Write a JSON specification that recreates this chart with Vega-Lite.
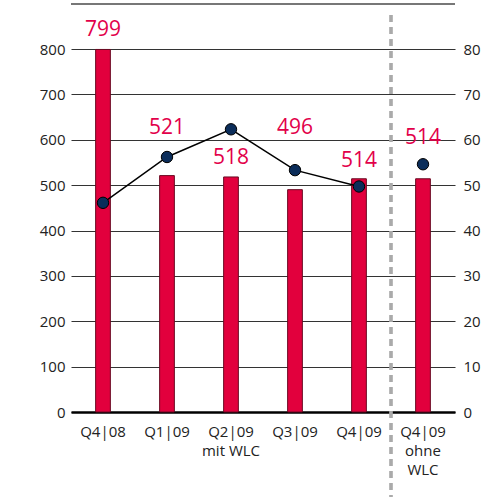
{
  "$schema": "https://vega.github.io/schema/vega-lite/v6.json",
  "width": 384,
  "height": 363,
  "autosize": {"type": "none"},
  "padding": {"left": 71, "top": 49, "right": 32, "bottom": 85},
  "background": "white",
  "config": {
    "view": {"stroke": null},
    "font": "Open Sans",
    "axis": {"labelFont": "Open Sans", "labelFontSize": 15, "labelColor": "#222", "title": null},
    "axisX": {
      "labelAngle": 0,
      "labelExpr": "split(datum.label, '~')",
      "labelLineHeight": 19,
      "labelPadding": 12,
      "ticks": false,
      "grid": false,
      "domainColor": "#000",
      "domainWidth": 2.5
    }
  },
  "data": {
    "values": [
      {"q": "Q4|08", "v": 799, "lbl": "799", "ly": 842, "r": 46.1, "g": "a"},
      {"q": "Q1|09", "v": 521, "lbl": "521", "ly": 626, "r": 56.2, "g": "a"},
      {"q": "Q2|09~mit WLC", "v": 518, "lbl": "518", "ly": 560, "r": 62.3, "g": "a"},
      {"q": "Q3|09", "v": 490, "lbl": "496", "ly": 626, "r": 53.3, "g": "a"},
      {"q": "Q4|09", "v": 514, "lbl": "514", "ly": 553, "r": 49.7, "g": "a"},
      {"q": "Q4|09~ohne~WLC", "v": 514, "lbl": "514", "ly": 604, "r": 54.6, "g": "b"}
    ]
  },
  "layer": [
    {
      "layer": [
        {
          "mark": {"type": "rule", "stroke": "#777", "strokeWidth": 2},
          "encoding": {
            "y": {"datum": 899, "scale": {"domain": [0, 800], "nice": false}, "title": null}
          }
        },
        {
          "mark": {"type": "bar", "fill": "#e2003d", "stroke": "#6a0a22", "strokeWidth": 1},
          "encoding": {
            "x": {"field": "q", "type": "nominal", "sort": null, "scale": {"paddingInner": 0.77, "paddingOuter": 0.385}, "title": null},
            "y": {
              "field": "v",
              "type": "quantitative",
              "scale": {"domain": [0, 800], "nice": false},
              "axis": {
                "values": [0, 100, 200, 300, 400, 500, 600, 700, 800],
                "grid": true,
                "gridColor": "#333",
                "gridWidth": 1.2,
                "domain": false,
                "ticks": false,
                "labelPadding": 6,
                "title": null
              }
            }
          }
        },
        {
          "mark": {"type": "text", "fontSize": 21, "color": "#e2004a", "font": "Open Sans"},
          "encoding": {
            "x": {"field": "q", "type": "nominal", "sort": null, "title": null},
            "y": {"field": "ly", "type": "quantitative", "scale": {"domain": [0, 800], "nice": false}, "title": null},
            "text": {"field": "lbl"}
          }
        },
        {
          "mark": {"type": "rule", "stroke": "#aaaaaa", "strokeWidth": 2.5, "strokeDash": [7, 5], "xOffset": -32},
          "encoding": {
            "x": {"datum": "Q4|09~ohne~WLC", "type": "nominal", "title": null},
            "y": {"datum": 875, "scale": {"domain": [0, 800], "nice": false}, "title": null},
            "y2": {"datum": -190}
          }
        }
      ]
    },
    {
      "layer": [
        {
          "transform": [{"filter": "datum.g == 'a'"}],
          "mark": {"type": "line", "stroke": "#000", "strokeWidth": 1.5},
          "encoding": {
            "x": {"field": "q", "type": "nominal", "sort": null, "title": null},
            "y": {
              "field": "r",
              "type": "quantitative",
              "scale": {"domain": [0, 80], "nice": false},
              "axis": {
                "orient": "right",
                "values": [0, 10, 20, 30, 40, 50, 60, 70, 80],
                "grid": false,
                "domain": false,
                "ticks": false,
                "labelPadding": 8,
                "title": null
              }
            }
          }
        },
        {
          "mark": {"type": "point", "filled": true, "fill": "#0b2d5a", "stroke": "#000", "strokeWidth": 1, "size": 130, "opacity": 1},
          "encoding": {
            "x": {"field": "q", "type": "nominal", "sort": null, "title": null},
            "y": {"field": "r", "type": "quantitative", "scale": {"domain": [0, 80], "nice": false}, "title": null}
          }
        }
      ]
    }
  ],
  "resolve": {"scale": {"y": "independent"}}
}
